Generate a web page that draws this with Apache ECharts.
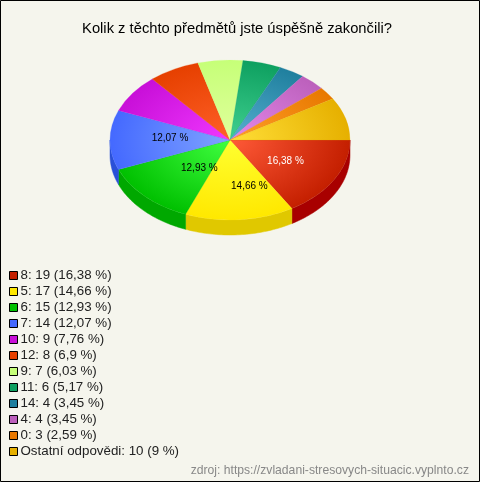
<!DOCTYPE html>
<html><head><meta charset="utf-8">
<style>html,body{margin:0;padding:0;background:#f5f5ed}#c{position:absolute;left:0;top:0;width:480px;height:482px}</style>
<script src="https://cdn.jsdelivr.net/npm/echarts@6/dist/echarts.min.js"></script>
</head><body><div id="c"></div>
<script>
const categories = ['8','5','6','7','10','12','9','11','14','4','0','Ostatní odpovědi'];
const values = [19,17,15,14,9,8,7,6,4,4,3,10];
const percentLabels = ['16,38','14,66','12,93','12,07','7,76','6,9','6,03','5,17','3,45','3,45','2,59','9'];
const sliceEdge = ['#c41f00','#ffe800','#00c000','#4469ff','#c80fd8','#e64000','#c6ff78','#0ea060','#1f7f9e','#bc60bc','#e87800','#e6b000'];
const sliceCentre = ['#ff5a38','#ffff30','#40ff40','#80a4ff','#f038ff','#ff6028','#e0ff9c','#40d090','#58b0d0','#e488ea','#ffa028','#ffdf38'];
const sideColours = ['#a80000','#e0c800','#00a800','#2a50d8','#a000b0','#b83000','#a0cc60','#088048','#186480','#964c96','#b86000','#b88c00'];
const titleText = 'Kolik z těchto předmětů jste úspěšně zakončili?';
const sourceText = 'zdroj: https://zvladani-stresovych-situacic.vyplnto.cz';

const CX=230, CY=140, RX=120, RY=80, DEPTH=15;
const total = values.reduce((a,b)=>a+b,0);
const labelNudge = {0:[-2,0],1:[14,2],2:[16,-3],3:[6,-2]};
const starts = []; let acc = 0;
values.forEach(v=>{starts.push(acc); acc+=v;});

function sliceRender(i){
  return function(params, api){
    const v = api.value(0);
    const a0 = starts[i]/total*Math.PI*2, a1 = a0 + v/total*Math.PI*2;
    const children = [];
    const s0 = Math.max(a0,0), s1 = Math.min(a1,Math.PI);
    if (s1 > s0){
      const pts=[]; const n=48;
      for(let k=0;k<=n;k++){const t=s0+(s1-s0)*k/n; pts.push([CX+RX*Math.cos(t),CY+RY*Math.sin(t)]);}
      for(let k=n;k>=0;k--){const t=s0+(s1-s0)*k/n; pts.push([CX+RX*Math.cos(t),CY+DEPTH+RY*Math.sin(t)]);}
      children.push({type:'polygon',shape:{points:pts},style:{fill:sideColours[i],stroke:sideColours[i],lineWidth:0.5}});
    }
    children.push({type:'group',x:CX,y:CY,scaleY:RY/RX,children:[{
      type:'sector',
      shape:{cx:0,cy:0,r0:0,r:RX,startAngle:a0,endAngle:a1,clockwise:true},
      style:{fill:new echarts.graphic.RadialGradient(0,0,RX,[{offset:0,color:sliceCentre[i]},{offset:1,color:sliceEdge[i]}],true),
             stroke:sliceEdge[i],lineWidth:0.3}
    }]});
    if (v/total >= 0.1){
      const m=(a0+a1)/2, n=labelNudge[i]||[0,0];
      children.push({type:'text',z2:100,x:CX+0.55*RX*Math.cos(m)+n[0],y:CY+0.55*RY*Math.sin(m)+n[1],
        style:{text:percentLabels[i]+' %',fill:i===0?'#ffffff':'#000000',font:'10px "Liberation Sans"',align:'center',verticalAlign:'middle'}});
    }
    return {type:'group',children};
  };
}

const names = categories.map((c,i)=>c+': '+values[i]+' ('+percentLabels[i]+' %)');
const chart = echarts.init(document.getElementById('c'),null,{renderer:'canvas'});
chart.setOption({
  animation:false,
  backgroundColor:'#f5f5ed',
  title:{text:titleText,left:232,textAlign:'center',top:16,textStyle:{fontFamily:'Liberation Sans',fontSize:14.75,fontWeight:'normal',color:'#000'}},
  legend:{orient:'vertical',left:4,top:263,itemWidth:8,itemHeight:8,itemGap:1,selectedMode:false,icon:'rect',
    data:names,
    itemStyle:{borderColor:'#000',borderWidth:1},
    textStyle:{fontFamily:'Liberation Sans',fontSize:13.33,color:'#222',padding:[0,0,0,-2],lineHeight:15}},
  graphic:[
    {type:'rect',silent:true,z:-1,shape:{x:0.5,y:0.5,width:479,height:481},style:{fill:'none',stroke:'#000',lineWidth:1}},
    {type:'text',silent:true,right:11,top:465,style:{text:sourceText,fill:'#888',font:'12.17px "Liberation Sans"'}}
  ],
  series:values.map((v,i)=>({
    type:'custom',name:names[i],coordinateSystem:'none',silent:true,
    itemStyle:{color:sliceEdge[i]},
    data:[[v]],renderItem:sliceRender(i)
  }))
});
</script></body></html>
